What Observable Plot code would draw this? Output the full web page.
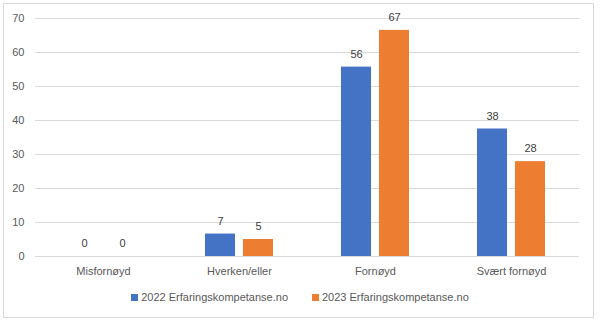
<!DOCTYPE html>
<html>
<head>
<meta charset="utf-8">
<script src="https://cdn.jsdelivr.net/npm/d3@7"></script>
<script src="https://cdn.jsdelivr.net/npm/@observablehq/plot@0.6"></script>
<style>
  body { margin: 0; background: #fff; font-family: "Liberation Sans", Arial, sans-serif; }
  #wrap { position: relative; width: 600px; height: 323px; }
  #border { position: absolute; left: 3px; top: 3px; width: 591px; height: 315px; border: 1px solid #d9d9d9; box-sizing: border-box; pointer-events: none; }
  #chart { position: absolute; left: 0; top: 0; }
  #legend { position: absolute; left: 0; top: 290px; width: 600px; display: flex; justify-content: center; gap: 24px; font-size: 11px; color: #595959; line-height: 14px; }
  .item { display: flex; align-items: center; }
  .sw { width: 7px; height: 7px; margin-right: 3px; display: inline-block; }
</style>
</head>
<body>
<div id="wrap">
  <div id="chart"></div>
  <div id="legend"></div>
  <div id="border"></div>
</div>
<script>
const categories = ["Misfornøyd", "Hverken/eller", "Fornøyd", "Svært fornøyd"];
const seriesNames = ["2022 Erfaringskompetanse.no", "2023 Erfaringskompetanse.no"];
const values2022 = [0, 6.6, 55.7, 37.5];
const values2023 = [0, 5.0, 66.5, 27.9];
const labels2022 = [0, 7, 56, 38];
const labels2023 = [0, 5, 67, 28];
const yTicks = [0, 10, 20, 30, 40, 50, 60, 70];
const colors = ["#4472C4", "#ED7D31"];

const data = [];
categories.forEach((c, i) => {
  data.push({category: c, series: seriesNames[0], value: values2022[i], label: labels2022[i]});
  data.push({category: c, series: seriesNames[1], value: values2023[i], label: labels2023[i]});
});
const d22 = data.filter(d => d.series === seriesNames[0]);
const d23 = data.filter(d => d.series === seriesNames[1]);

const plot = Plot.plot({
  width: 600,
  height: 285,
  marginLeft: 35,
  marginRight: 21,
  marginTop: 18,
  marginBottom: 29,
  style: {fontFamily: "Liberation Sans, Arial, sans-serif", fontSize: "11px", color: "#595959", background: "transparent"},
  x: {domain: categories, padding: 0, label: null, tickSize: 0, tickPadding: 11},
  y: {domain: [0, 70], ticks: yTicks, label: null, tickSize: 0, tickPadding: 11},
  color: {domain: seriesNames, range: colors},
  marks: [
    Plot.ruleY(yTicks, {stroke: "#d9d9d9", strokeWidth: 1}),
    Plot.barY(d22, {x: "category", y: "value", fill: "series", insetLeft: 34, insetRight: 72}),
    Plot.barY(d23, {x: "category", y: "value", fill: "series", insetLeft: 72, insetRight: 34}),
    Plot.text(d22, {x: "category", y: "value", text: "label", dx: -19, dy: -13, fill: "#404040", fontSize: 11}),
    Plot.text(d23, {x: "category", y: "value", text: "label", dx: 19, dy: -13, fill: "#404040", fontSize: 11})
  ]
});
document.getElementById("chart").appendChild(plot);

const legend = document.getElementById("legend");
seriesNames.forEach((s, i) => {
  const it = document.createElement("div");
  it.className = "item";
  const sw = document.createElement("span");
  sw.className = "sw";
  sw.style.background = colors[i];
  it.appendChild(sw);
  const t = document.createElement("span");
  t.textContent = s;
  it.appendChild(t);
  legend.appendChild(it);
});
</script>
</body>
</html>
